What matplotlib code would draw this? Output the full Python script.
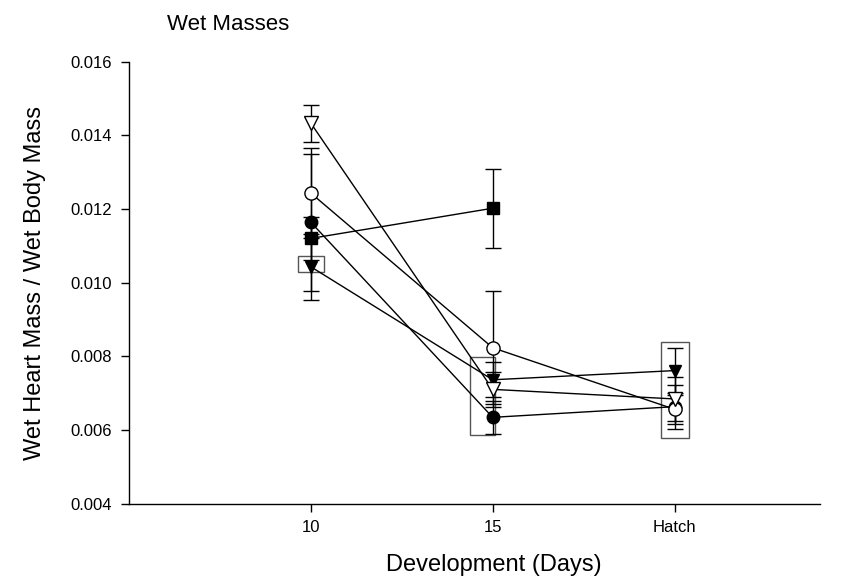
import matplotlib
matplotlib.use("Agg")
import matplotlib.pyplot as plt
from matplotlib.patches import Rectangle

plt.rcParams['font.family'] = ['Liberation Sans', 'DejaVu Sans']

categories = ['10', '15', 'Hatch']
xpos = [1, 2, 3]

# series values (mean, standard error)
open_tri = [0.01433, 0.00710, 0.00684]
open_tri_err = [0.00050, 0.00047, 0.00059]
open_circ = [0.01243, 0.00823, 0.00656]
open_circ_err = [0.00122, 0.00154, 0.00040]
fill_circ = [0.01164, 0.00634, 0.00663]
fill_circ_err = [0.00186, 0.00045, 0.00060]
fill_sq = [0.01120, 0.01202]
fill_sq_err = [0.00058, 0.00107]
fill_tri = [0.01043, 0.00736, 0.00761]
fill_tri_err = [0.00090, 0.00047, 0.00062]

# highlighted boxes: (x centre, x half-width, y low, y high)
boxes = [(1.0, 0.07, 0.01030, 0.01072),
         (1.945, 0.067, 0.00586, 0.00799),
         (3.0, 0.077, 0.00578, 0.00838)]

fig = plt.figure(figsize=(8.5, 5.87), dpi=100)
ax = fig.add_axes([129/850, 1-503.5/587, (820-129)/850, (503.5-61.7)/587])

common = dict(color='black', lw=1.0, capsize=5.5, capthick=1.0, elinewidth=1.0)

for (xc, hw, lo, hi) in boxes:
    ax.add_patch(Rectangle((xc-hw, lo), 2*hw, hi-lo, fill=False,
                           edgecolor='#555555', lw=1.0, zorder=1))

ax.errorbar(xpos[:2], fill_sq, yerr=fill_sq_err, marker='s', ms=8,
            mfc='black', mec='black', zorder=3, **common)
ax.errorbar(xpos, fill_tri, yerr=fill_tri_err, marker='v', ms=9,
            mfc='black', mec='black', zorder=3, **common)
ax.errorbar(xpos, fill_circ, yerr=fill_circ_err, marker='o', ms=9,
            mfc='black', mec='black', zorder=3, **common)
ax.errorbar(xpos, open_circ, yerr=open_circ_err, marker='o', ms=9.5,
            mfc='white', mec='black', mew=1.0, zorder=4, **common)
ax.errorbar(xpos, open_tri, yerr=open_tri_err, marker='v', ms=9.5,
            mfc='white', mec='black', mew=1.0, zorder=4, **common)

ax.set_xlim(0.0, 3.8)
ax.set_ylim(0.004, 0.016)
ax.set_xticks(xpos)
ax.set_xticklabels(categories)
ax.set_yticks([0.004, 0.006, 0.008, 0.010, 0.012, 0.014, 0.016])
ax.set_yticklabels(['0.004', '0.006', '0.008', '0.010', '0.012', '0.014', '0.016'])
ax.tick_params(direction='out', length=6, width=1, labelsize=12, pad=6)
for s in ['top', 'right']:
    ax.spines[s].set_visible(False)
for s in ['left', 'bottom']:
    ax.spines[s].set_linewidth(1.0)

ax.set_xlabel('Development (Days)', fontsize=17)
ax.xaxis.set_label_coords(0.528, -0.115)
ax.set_ylabel('Wet Heart Mass / Wet Body Mass', fontsize=17, labelpad=18)
fig.text(167/850, 1-24/587, 'Wet Masses', fontsize=16, va='center', ha='left')

fig.savefig('out.png', dpi=100)
